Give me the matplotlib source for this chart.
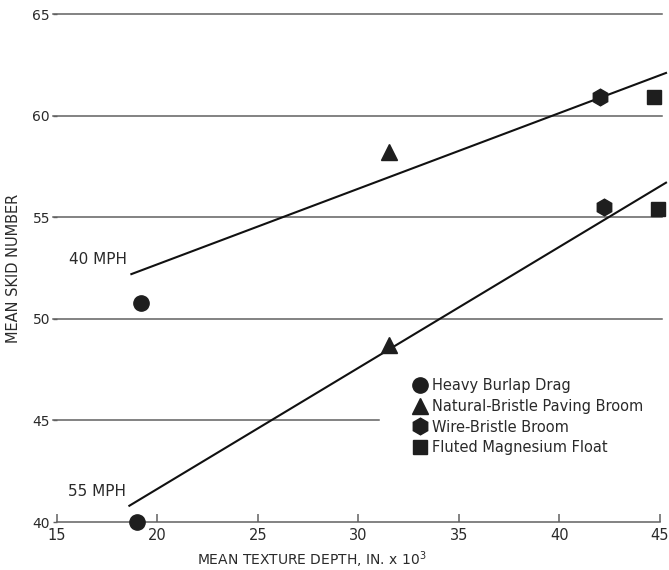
import matplotlib
matplotlib.use("Agg")
import matplotlib.pyplot as plt
from matplotlib.lines import Line2D

# ---- data ----
heavy_x = [19.2, 19.0]
heavy_y = [50.8, 40.0]
natural_x = [31.5, 31.5]
natural_y = [58.2, 48.7]
wire_x = [42.0, 42.2]
wire_y = [60.9, 55.5]
fluted_x = [44.7, 44.9]
fluted_y = [60.9, 55.4]

fit40_x = [18.7, 45.3]
fit40_y = [52.2, 62.1]
fit55_x = [18.6, 45.3]
fit55_y = [40.8, 56.7]

x_ticks = [15, 20, 25, 30, 35, 40, 45]
y_ticks = [40, 45, 50, 55, 60, 65]
grid_levels = [45, 50, 55, 60, 65]

legend_labels = ["Heavy Burlap Drag", "Natural-Bristle Paving Broom",
                 "Wire-Bristle Broom", "Fluted Magnesium Float"]

plt.rcParams['font.family'] = ['DejaVu Sans']
TXT = '#2a2a2a'
GRID = '#606060'

fig = plt.figure(figsize=(6.69, 5.70), dpi=100)
ax = fig.add_axes([0.0852, 0.0842, 0.9013, 0.8912])
ax.set_xlim(15, 45)
ax.set_ylim(40, 65)

# gridlines
for lv in grid_levels:
    xend = 31 if lv == 45 else 45.1
    ax.plot([14.8, xend], [lv, lv], color=GRID, lw=1.1, clip_on=False, zorder=1)

# fitted lines
ax.plot(fit40_x, fit40_y, color='#111111', lw=1.5, clip_on=False, zorder=2)
ax.plot(fit55_x, fit55_y, color='#111111', lw=1.5, clip_on=False, zorder=2)

mk = dict(color='#1e1e1e', linestyle='none', clip_on=False, zorder=3)
ax.plot(heavy_x, heavy_y, marker='o', markersize=11, **mk)
ax.plot(natural_x, natural_y, marker='^', markersize=12, **mk)
ax.plot(wire_x, wire_y, marker='h', markersize=12, **mk)
ax.plot(fluted_x, fluted_y, marker='s', markersize=9.5, **mk)

ax.text(15.6, 52.9, "40 MPH", fontsize=11, color=TXT, va='center', ha='left')
ax.text(15.55, 41.5, "55 MPH", fontsize=11, color=TXT, va='center', ha='left')

# spines / ticks
for s in ['top', 'right', 'left']:
    ax.spines[s].set_visible(False)
ax.spines['bottom'].set_color(GRID)
ax.spines['bottom'].set_linewidth(1.1)
ax.set_xticks(x_ticks)
ax.set_yticks(y_ticks)
ax.tick_params(axis='x', direction='in', length=6, width=1.1, color=GRID,
               labelsize=10.5, labelcolor=TXT, pad=4)
ax.tick_params(axis='y', direction='out', length=3, width=1, color=GRID,
               labelsize=10, labelcolor=TXT, pad=2)

ax.set_xlabel("MEAN TEXTURE DEPTH, IN. x 10$^3$", fontsize=10, color=TXT, va='center')
ax.xaxis.set_label_coords(0.423, -0.074)
ax.set_ylabel("MEAN SKID NUMBER", fontsize=10.5, color=TXT, labelpad=8)

handles = [
    Line2D([], [], marker='o', color='#1e1e1e', linestyle='none', markersize=11),
    Line2D([], [], marker='^', color='#1e1e1e', linestyle='none', markersize=12),
    Line2D([], [], marker='h', color='#1e1e1e', linestyle='none', markersize=12),
    Line2D([], [], marker='s', color='#1e1e1e', linestyle='none', markersize=9.5),
]
leg = ax.legend(handles, legend_labels, loc='upper left', bbox_to_anchor=(0.58, 0.294),
                frameon=False, handletextpad=0.3, labelspacing=0.38, borderaxespad=0,
                handlelength=1.0, fontsize=10.5)
for t in leg.get_texts():
    t.set_color(TXT)

fig.savefig("out.png", dpi=100, facecolor='white')
